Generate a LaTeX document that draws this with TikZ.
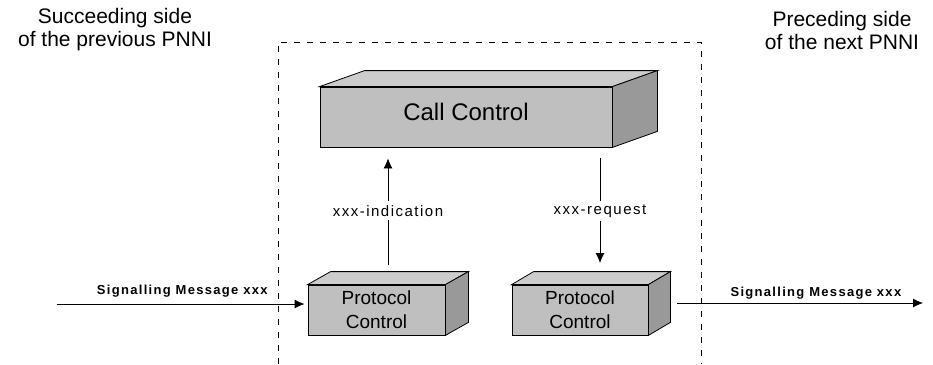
\documentclass[tikz,border=0pt]{standalone}
\usepackage{fontspec}
\setmainfont{Liberation Sans}
\newfontfamily\widefont[LetterSpace=10]{Liberation Sans}
\usetikzlibrary{arrows.meta,calc}

\tikzset{
  block/.style={draw, line width=0.8pt, fill=black!25, align=center, inner sep=0pt},
  prim/.style={font=\widefont\fontsize{15}{18}\selectfont, fill=white, inner sep=4pt},
  msg/.style={font=\widefont\bfseries\fontsize{13}{16}\selectfont, inner sep=0pt},
  side/.style={align=center, font=\fontsize{21}{23}\selectfont},
  arr/.style={-{Latex[length=10pt,width=9pt]}, line width=0.8pt},
}

\begin{document}
\begin{tikzpicture}[x=1pt,y=-1pt]
  \useasboundingbox (0,0) rectangle (933,364);

  % switching system frame
  \draw[line width=0.8pt, dash pattern=on 6pt off 7pt] (278,364) -- (278,42) -- (701,42) -- (701,364);

  \node[side] (prev) at (115,30) {Succeeding side\\of the previous PNNI};
  \node[side] (next) at (842,30) {Preceding side\\of the next PNNI};

  \node[block, minimum width=292pt, minimum height=60pt, text height=17pt, text depth=11pt, font=\fontsize{24}{26}\selectfont] (cc) at (466,117) {Call Control};
  \node[block, minimum width=137pt, minimum height=50pt, font=\fontsize{19}{24}\selectfont] (pcl) at (376.5,310) {Protocol\\Control};
  \node[block, minimum width=136pt, minimum height=50pt, font=\fontsize{19}{24}\selectfont] (pcr) at (580,310) {Protocol\\Control};

  % top and right faces
  \foreach \b/\dx/\dy in {cc/45/16, pcl/23/13, pcr/22/13} {
    \filldraw[line width=0.8pt, fill=black!20] (\b.north west) -- ++(\dx,-\dy) -- ($(\b.north east)+(\dx,-\dy)$) -- (\b.north east) -- cycle;
    \filldraw[line width=0.8pt, fill=black!40] (\b.north east) -- ++(\dx,-\dy) -- ($(\b.south east)+(\dx,-\dy)$) -- (\b.south east) -- cycle;
  }

  \coordinate (ind) at (388,265);
  \coordinate (req) at (600,263);
  \draw[arr, shorten >=11pt] (ind) -- (ind |- cc.south) node[prim, pos=0.46] {xxx-indication};
  \draw[arr, shorten <=11pt] (req |- cc.south) -- (req) node[prim, pos=0.55] {xxx-request};

  \coordinate (sin) at (57,304);
  \coordinate (sout) at (923,303);
  \draw[arr, shorten >=3pt] (sin) -- (sin -| pcl.west) node[msg, midway, above=6pt] {Signalling Message xxx};
  \draw[arr, shorten <=29pt] (sout -| pcr.east) -- (sout) node[msg, pos=0.61, above=3.5pt] {Signalling Message xxx};
\end{tikzpicture}
\end{document}
